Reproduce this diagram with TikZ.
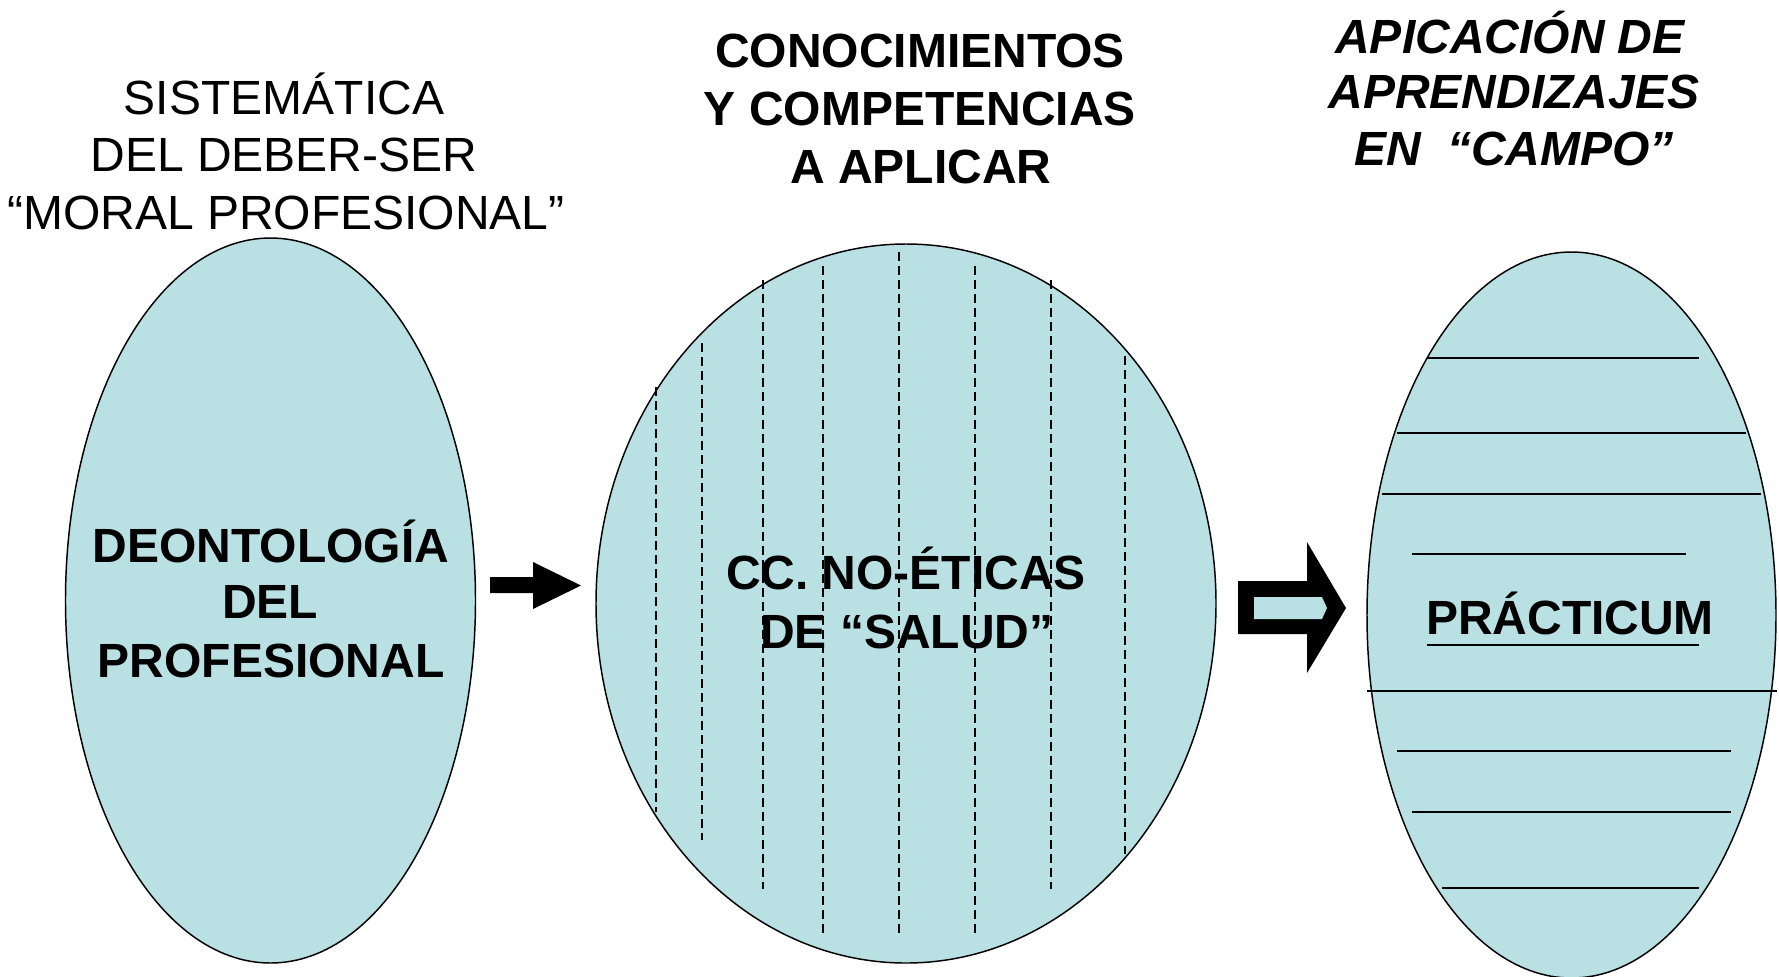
\documentclass[tikz,border=0pt]{standalone}
\usepackage{fontspec}
\setmainfont{Liberation Sans}
\usetikzlibrary{shapes.geometric}
\definecolor{fillblue}{HTML}{B9E0E3}
\begin{document}
\begin{tikzpicture}[x=0.75pt,y=-0.75pt,
  oval/.style={ellipse, draw=black, line width=1.1pt, fill=fillblue, inner sep=0pt},
  txt/.style={font=\fontsize{36}{43.5}\selectfont, anchor=base, inner sep=0pt},
  btxt/.style={font=\fontsize{36}{43.5}\selectfont\bfseries, anchor=base, inner sep=0pt},
  bitxt/.style={font=\fontsize{36}{43.5}\selectfont\bfseries\itshape, anchor=base, inner sep=0pt},
  dline/.style={line width=1.1pt, dash pattern=on 6.5pt off 4pt},
  hline/.style={line width=1.6pt}]
\useasboundingbox (0,0) rectangle (1779,976);
\fill[white] (0,0) rectangle (1779,976);

% ellipses
\node[oval, minimum width=307.5pt, minimum height=543.75pt] (left) at (270.5,600.5) {};
\node[oval, minimum width=465pt, minimum height=539.25pt] (mid) at (906,603.5) {};
\node[oval, minimum width=306.75pt, minimum height=544.5pt] (right) at (1571.5,615) {};

% titles
\node[txt] (l1) at (284,114) {SISTEMÁTICA};
\node[txt] (l2) at (284,171) {DEL DEBER-SER};
\node[txt] (l3) at (286,229) {“MORAL PROFESIONAL”};

\node[btxt] (m1) at (920,67) {CONOCIMIENTOS};
\node[btxt] (m2) at (920,125) {Y COMPETENCIAS};
\node[btxt] (m3) at (921,183) {A APLICAR};

\node[bitxt] (r1) at (1510,53) {APICACIÓN DE};
\node[bitxt] (r2) at (1514,108) {APRENDIZAJES};
\node[bitxt] (r3) at (1514,165) {EN\ \ “CAMPO”};

% inner texts
\node[btxt] (d1) at (271,562) {DEONTOLOGÍA};
\node[btxt] (d2) at (270,618) {DEL};
\node[btxt] (d3) at (271,677) {PROFESIONAL};

\node[btxt] (c1) at (906,589) {CC. NO-ÉTICAS};
\node[btxt] (c2) at (907,648) {DE “SALUD”};

\node[btxt] (p1) at (1570,634) {PRÁCTICUM};

% dashed lines in middle ellipse
\draw[dline] (656,387) -- (656,812);
\draw[dline] (702,343) -- (702,840);
\draw[dline] (763,280) -- (763,889);
\draw[dline] (823,266) -- (823,933);
\draw[dline] (899,252) -- (899,933);
\draw[dline] (975,266) -- (975,933);
\draw[dline] (1051,280) -- (1051,889);
\draw[dline] (1125,356) -- (1125,854);

% horizontal lines in right ellipse
\draw[hline] (1427,358) -- (1699,358);
\draw[hline] (1397,433) -- (1746,433);
\draw[hline] (1382,494) -- (1761,494);
\draw[hline] (1412,554) -- (1686,554);
\draw[hline] (1427,645) -- (1699,645);
\draw[hline] (1367,691) -- (1777,691);
\draw[hline] (1397,751) -- (1731,751);
\draw[hline] (1412,812) -- (1731,812);
\draw[hline] (1442,888) -- (1699,888);

% solid block arrow
\fill[black] (490,577) -- (533,577) -- (533,562) -- (581,585.5) -- (533,609) -- (533,593) -- (490,593) -- cycle;

% outlined block arrow
\fill[black] (1238,581) -- (1307,581) -- (1307,542) -- (1346,608) -- (1307,673) -- (1307,634) -- (1238,634) -- cycle;
\fill[fillblue] (1254,597) -- (1322,597) -- (1327,608) -- (1322,619) -- (1254,619) -- cycle;
\end{tikzpicture}
\end{document}
